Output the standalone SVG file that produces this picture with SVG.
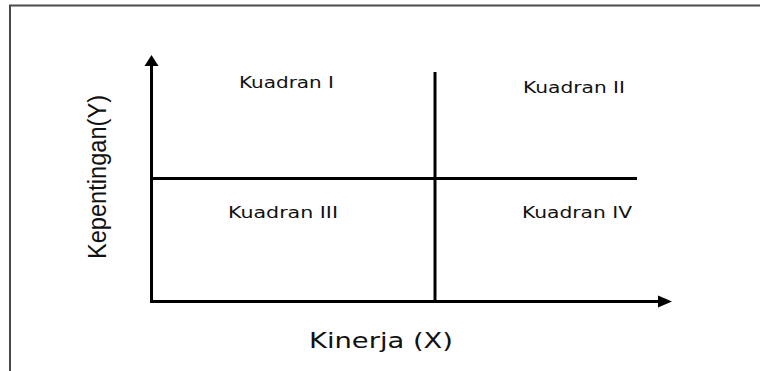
<svg xmlns="http://www.w3.org/2000/svg" width="760" height="371" viewBox="0 0 760 371">
<style>
.frame{stroke:#4a4a4a;stroke-width:2;fill:none}
.ax{stroke:#000;stroke-width:3;fill:none}
.head{fill:#000}
.q{font-family:"DejaVu Sans","Verdana",sans-serif;font-size:16px;fill:#111}
.lx{font-family:"DejaVu Sans","Verdana",sans-serif;font-size:21px;fill:#111}
.ly{font-family:"Liberation Sans",Arial,sans-serif;font-size:26px;fill:#111}
</style>
<rect width="760" height="371" fill="#fff"/>
<g id="frame">
<path class="frame" d="M10,371 V5.5 H760"/>
</g>
<g id="connectors">
<path class="ax" d="M151.5,303 V64"/>
<polygon class="head" points="151.5,55 144.5,66 158.5,66"/>
<path class="ax" d="M150,301.5 H660"/>
<polygon class="head" points="672,301.5 658,295.5 658,307.5"/>
<path class="ax" d="M435,72 V301"/>
<path class="ax" d="M151,178.5 H637"/>
</g>
<g id="q1"><text class="q" x="239" y="88" textLength="95" lengthAdjust="spacingAndGlyphs">Kuadran I</text></g>
<g id="q2"><text class="q" x="523" y="93" textLength="102" lengthAdjust="spacingAndGlyphs">Kuadran II</text></g>
<g id="q3"><text class="q" x="228" y="218" textLength="110" lengthAdjust="spacingAndGlyphs">Kuadran III</text></g>
<g id="q4"><text class="q" x="522" y="218" textLength="110" lengthAdjust="spacingAndGlyphs">Kuadran IV</text></g>
<g id="xlabel"><text class="lx" x="309" y="348" textLength="144" lengthAdjust="spacingAndGlyphs">Kinerja (X)</text></g>
<g id="ylabel"><text class="ly" transform="translate(106,259) rotate(-90)" x="0" y="0" textLength="164" lengthAdjust="spacingAndGlyphs">Kepentingan(Y)</text></g>
</svg>
